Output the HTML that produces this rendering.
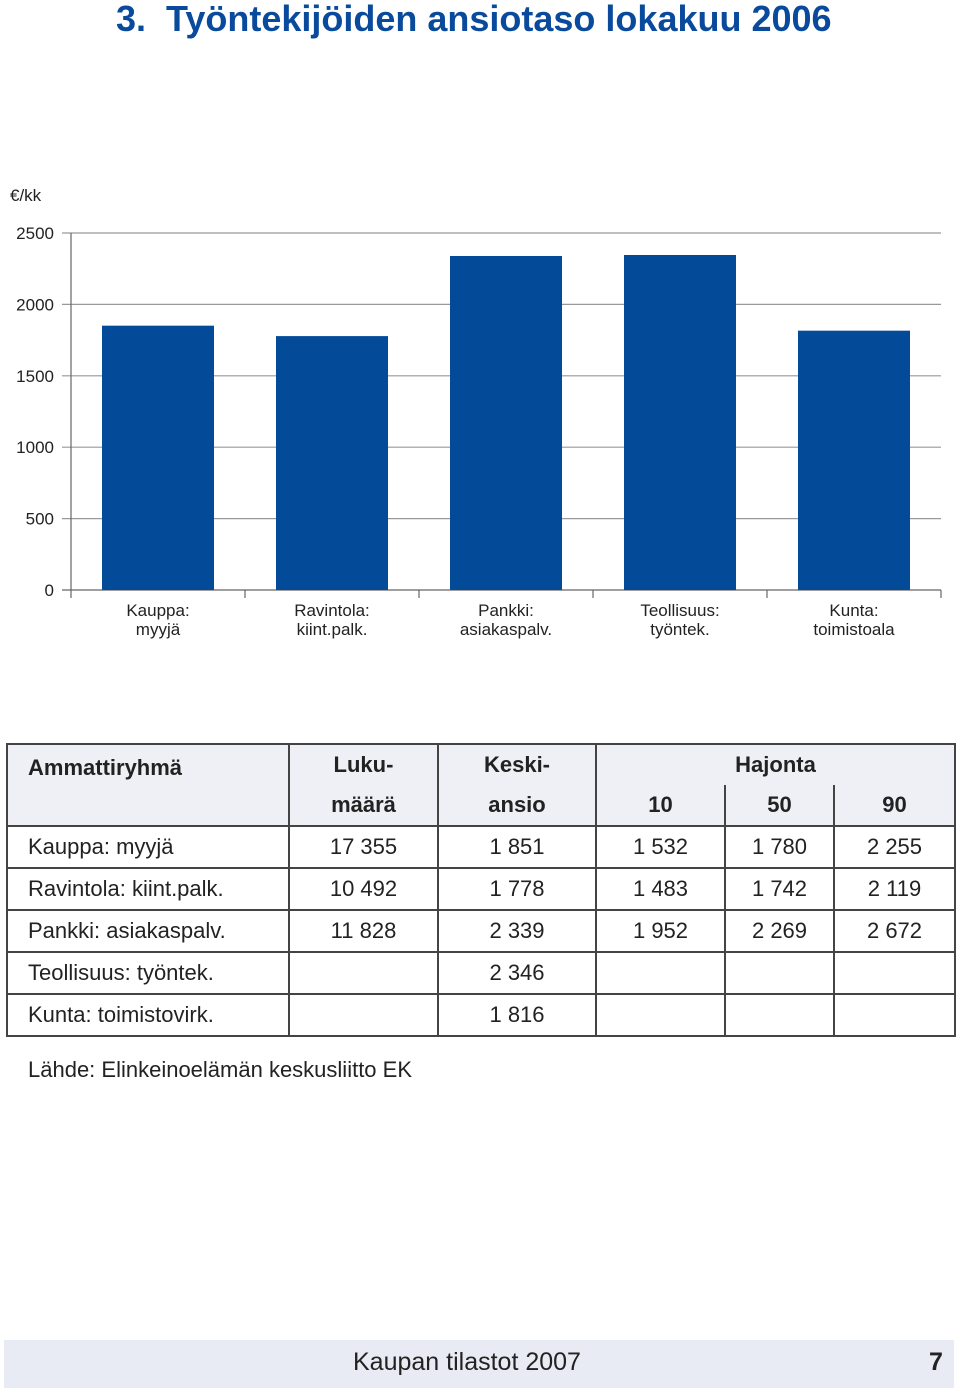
<!DOCTYPE html>
<html><head><meta charset="utf-8"><style>
body{margin:0;width:960px;height:1398px;background:#fff;font-family:"Liberation Sans",sans-serif;position:relative;overflow:hidden}
.t{position:absolute;white-space:nowrap}
table{position:absolute;left:6px;top:743px;border-collapse:collapse;width:950px;font-size:22px;color:#222}
td{border:2px solid #444;padding:0;height:40px}
.h td{background:#eef0f6;font-weight:bold}
.c{text-align:center}
</style></head><body>
<div class="t" style="left:116px;top:-2px;font-size:36px;font-weight:bold;color:#0a4a9c">3.&nbsp; Työntekijöiden ansiotaso lokakuu 2006</div>
<svg width="960" height="660" style="position:absolute;left:0;top:0">
<g id="g"></g>
</svg>
<table>
<tr class="h" style="height:40px"><td rowspan="2" style="width:260px;vertical-align:top;padding:10px 0 0 20px">Ammattiryhmä</td>
<td class="c" style="width:147px;border-bottom:none">Luku-</td>
<td class="c" style="width:156px;border-bottom:none">Keski-</td>
<td class="c" colspan="3" style="border-bottom:none">Hajonta</td></tr>
<tr class="h"><td class="c" style="border-top:none">määrä</td><td class="c" style="border-top:none">ansio</td>
<td class="c" style="width:127px;border-top:none;border-right-color:#444">10</td><td class="c" style="width:107px;border-top:none">50</td><td class="c" style="border-top:none">90</td></tr>
<tr><td style="padding-left:20px">Kauppa: myyjä</td><td class="c">17 355</td><td class="c">1 851</td><td class="c">1 532</td><td class="c">1 780</td><td class="c">2 255</td></tr>
<tr><td style="padding-left:20px">Ravintola: kiint.palk.</td><td class="c">10 492</td><td class="c">1 778</td><td class="c">1 483</td><td class="c">1 742</td><td class="c">2 119</td></tr>
<tr><td style="padding-left:20px">Pankki: asiakaspalv.</td><td class="c">11 828</td><td class="c">2 339</td><td class="c">1 952</td><td class="c">2 269</td><td class="c">2 672</td></tr>
<tr><td style="padding-left:20px">Teollisuus: työntek.</td><td></td><td class="c">2 346</td><td></td><td></td><td></td></tr>
<tr><td style="padding-left:20px">Kunta: toimistovirk.</td><td></td><td class="c">1 816</td><td></td><td></td><td></td></tr>
</table>
<div class="t" style="left:28px;top:1057px;font-size:22px;color:#222">Lähde: Elinkeinoelämän keskusliitto EK</div>
<div style="position:absolute;left:4px;top:1340px;width:950px;height:48px;background:#e8ebf4"></div>
<div class="t" style="left:353px;top:1348px;font-size:25px;color:#222">Kaupan tilastot 2007</div>
<div class="t" style="left:929px;top:1348px;font-size:25px;font-weight:bold;color:#222">7</div>
<script>
const categories=[["Kauppa:","myyjä"],["Ravintola:","kiint.palk."],["Pankki:","asiakaspalv."],["Teollisuus:","työntek."],["Kunta:","toimistoala"]];
const values=[1851,1778,2339,2346,1816];
const ticks=[0,500,1000,1500,2000,2500];
const NS="http://www.w3.org/2000/svg",g=document.getElementById('g');
const x0=71,x1=941,y0=590,yt=233,ymax=2500;
const y=v=>y0-(y0-yt)*v/ymax;
const bw=(x1-x0)/categories.length;
function el(t,a,txt){const e=document.createElementNS(NS,t);for(const k in a)e.setAttribute(k,a[k]);if(txt!=null)e.textContent=txt;g.appendChild(e);return e;}
const u=el('text',{x:10,y:201,'font-size':17,fill:'#222','font-family':'Liberation Sans'},'€/kk');


ticks.forEach(t=>{
 const l=el('line',{x1:62,x2:x1,y1:y(t),y2:y(t),stroke:t?'#999':'#666','stroke-width':1.2});
 
 
 const tx=el('text',{x:54,y:y(t)+6,'text-anchor':'end','font-size':17,fill:'#222','font-family':'Liberation Sans'},t);
 
 
});
el('line',{x1:x0,x2:x0,y1:yt,y2:598,stroke:'#666','stroke-width':1.2});
categories.forEach((c,i)=>{
 const cx=x0+bw*(i+0.5);
 const tk=el('line',{x1:x0+bw*(i+1),x2:x0+bw*(i+1),y1:y0,y2:598,stroke:'#666','stroke-width':1.2});
 const r=el('rect',{x:cx-56,y:y(values[i]),width:112,height:y0-y(values[i]),fill:'#034a98'});
 
 
 c.forEach((s,j)=>{
  const t=el('text',{x:cx,y:616+j*19,'text-anchor':'middle','font-size':17,fill:'#222','font-family':'Liberation Sans'},s);
  
  
 });
});
</script>
</body></html>
